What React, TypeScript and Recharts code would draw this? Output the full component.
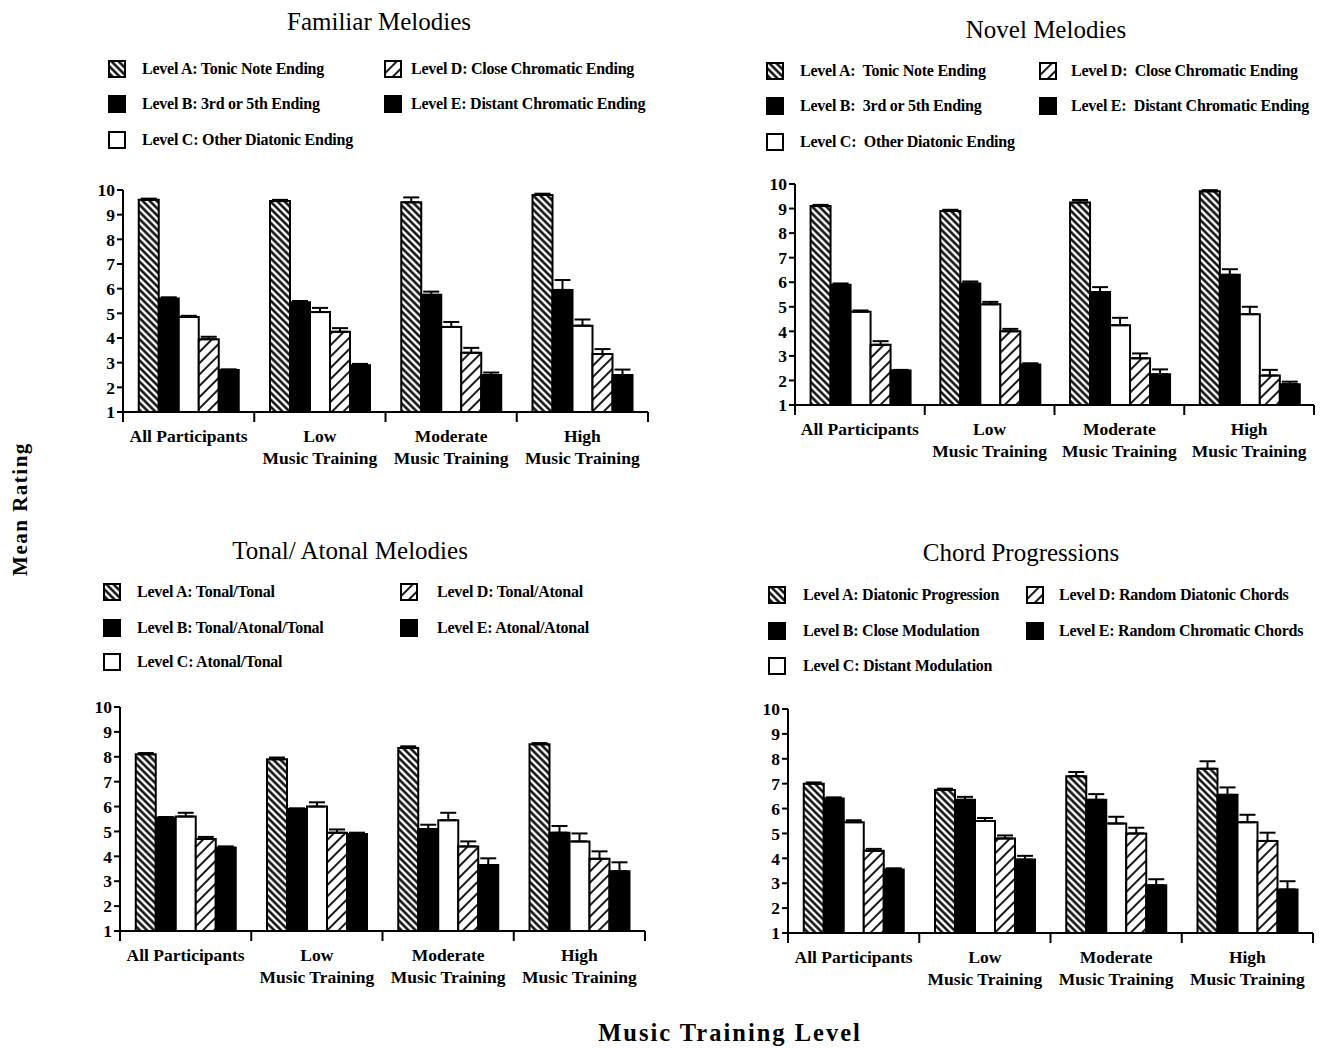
import React from "react";
import { BarChart, Bar, XAxis, YAxis, ErrorBar } from "recharts";

const FONT = "'Liberation Serif', 'DejaVu Serif', serif";

const categoryTop = ["All Participants", "Low", "Moderate", "High"];
const categoryBottom = ["", "Music Training", "Music Training", "Music Training"];
const yTicks = [1, 2, 3, 4, 5, 6, 7, 8, 9, 10];
const levelKeys = ["A", "B", "C", "D", "E"];
const levelFills = ["url(#hatchA)", "#000", "#fff", "url(#hatchD)", "#000"];

const familiarLegend = [
  "Level A: Tonic Note Ending",
  "Level B: 3rd or 5th Ending",
  "Level C: Other Diatonic Ending",
  "Level D: Close Chromatic Ending",
  "Level E: Distant Chromatic Ending",
];
const familiarMeans = [
  [9.6, 9.55, 9.5, 9.8],
  [5.6, 5.45, 5.75, 5.95],
  [4.85, 5.05, 4.45, 4.5],
  [3.95, 4.25, 3.4, 3.35],
  [2.7, 2.9, 2.5, 2.5],
];
const familiarErrors = [
  [0.05, 0.05, 0.2, 0.05],
  [0.05, 0.05, 0.13, 0.4],
  [0.05, 0.17, 0.2, 0.25],
  [0.1, 0.15, 0.2, 0.2],
  [0.03, 0.05, 0.1, 0.22],
];

const novelLegend = [
  "Level A:  Tonic Note Ending",
  "Level B:  3rd or 5th Ending",
  "Level C:  Other Diatonic Ending",
  "Level D:  Close Chromatic Ending",
  "Level E:  Distant Chromatic Ending",
];
const novelMeans = [
  [9.1, 8.9, 9.25, 9.7],
  [5.9, 5.95, 5.6, 6.3],
  [4.8, 5.1, 4.25, 4.7],
  [3.45, 4.0, 2.9, 2.2],
  [2.4, 2.65, 2.25, 1.85],
];
const novelErrors = [
  [0.05, 0.05, 0.1, 0.05],
  [0.05, 0.08, 0.2, 0.23],
  [0.05, 0.1, 0.3, 0.3],
  [0.15, 0.1, 0.2, 0.23],
  [0.03, 0.05, 0.2, 0.1],
];

const tonalLegend = [
  "Level A: Tonal/Tonal",
  "Level B: Tonal/Atonal/Tonal",
  "Level C: Atonal/Tonal",
  "Level D: Tonal/Atonal",
  "Level E: Atonal/Atonal",
];
const tonalMeans = [
  [8.1, 7.9, 8.35, 8.5],
  [5.55, 5.9, 5.1, 4.95],
  [5.6, 6.0, 5.45, 4.6],
  [4.7, 4.95, 4.4, 3.9],
  [4.35, 4.9, 3.65, 3.4],
];
const tonalErrors = [
  [0.05, 0.07, 0.07, 0.05],
  [0.03, 0.03, 0.17, 0.27],
  [0.15, 0.17, 0.3, 0.32],
  [0.08, 0.13, 0.2, 0.3],
  [0.05, 0.05, 0.27, 0.36],
];

const chordLegend = [
  "Level A: Diatonic Progression",
  "Level B: Close Modulation",
  "Level C: Distant Modulation",
  "Level D: Random Diatonic Chords",
  "Level E: Random Chromatic Chords",
];
const chordMeans = [
  [7.0, 6.75, 7.3, 7.6],
  [6.4, 6.35, 6.35, 6.55],
  [5.45, 5.5, 5.4, 5.45],
  [4.3, 4.8, 5.0, 4.7],
  [3.55, 3.95, 2.92, 2.75],
];
const chordErrors = [
  [0.05, 0.05, 0.17, 0.3],
  [0.05, 0.12, 0.23, 0.3],
  [0.08, 0.12, 0.27, 0.3],
  [0.08, 0.12, 0.23, 0.33],
  [0.05, 0.15, 0.24, 0.33],
];

function buildData(means: number[][], errors: number[][]) {
  return categoryTop.map((c, i) => {
    const row: any = { name: `${c} ${categoryBottom[i]}`.trim(), idx: i };
    levelKeys.forEach((k, j) => {
      row[k] = means[j][i];
      row["e" + k] = [0, errors[j][i]];
    });
    return row;
  });
}

type PanelProps = {
  left: number;
  top: number;
  plotW: number;
  plotH: number;
  title: string;
  titleX: number;
  titleY: number;
  legend: string[];
  col1Icon: number;
  col1Text: number;
  col2Icon: number;
  col2Text: number;
  rows: number[];
  means: number[][];
  errors: number[][];
};

const ML = 60;
const MR = 12;
const MT = 10;
const XH = 62;

function LegendIcon({ fill, cx, cy }: { fill: string; cx: number; cy: number }) {
  return (
    <svg
      width={18}
      height={18}
      style={{ position: "absolute", left: cx - 9, top: cy - 9 }}
    >
      <rect x={1} y={1} width={16} height={16} fill={fill} stroke="#000" strokeWidth={2} />
    </svg>
  );
}

function Panel(p: PanelProps) {
  const data = buildData(p.means, p.errors);
  const band = p.plotW / categoryTop.length;
  const W = p.plotW + ML + MR;
  const H = p.plotH + MT + XH;
  const renderTick = (props: any) => {
    const { x, y, payload } = props;
    const i = typeof props.index === "number" ? props.index : payload.index;
    return (
      <g>
        <line x1={x - band / 2} y1={y} x2={x - band / 2} y2={y + 10} stroke="#000" strokeWidth={2} />
        {i === categoryTop.length - 1 && (
          <line x1={x + band / 2} y1={y} x2={x + band / 2} y2={y + 10} stroke="#000" strokeWidth={2} />
        )}
        <text x={x} y={y + 30} textAnchor="middle" fontFamily={FONT} fontWeight="bold" fontSize={17.5} fill="#000">
          {categoryTop[i]}
        </text>
        <text x={x} y={y + 52} textAnchor="middle" fontFamily={FONT} fontWeight="bold" fontSize={17.5} fill="#000">
          {categoryBottom[i]}
        </text>
      </g>
    );
  };
  const legendPos = [
    [p.col1Icon, p.col1Text, p.rows[0]],
    [p.col1Icon, p.col1Text, p.rows[1]],
    [p.col1Icon, p.col1Text, p.rows[2]],
    [p.col2Icon, p.col2Text, p.rows[0]],
    [p.col2Icon, p.col2Text, p.rows[1]],
  ];
  return (
    <>
      <div
        style={{
          position: "absolute",
          left: p.titleX - 200,
          width: 400,
          top: p.titleY - 15,
          height: 30,
          lineHeight: "30px",
          textAlign: "center",
          fontFamily: FONT,
          fontSize: 25,
          color: "#000",
        }}
      >
        {p.title}
      </div>
      {p.legend.map((label, j) => (
        <React.Fragment key={j}>
          <LegendIcon fill={levelFills[j]} cx={legendPos[j][0]} cy={legendPos[j][2]} />
          <div
            style={{
              position: "absolute",
              left: legendPos[j][1],
              top: legendPos[j][2] - 11,
              height: 22,
              lineHeight: "22px",
              fontFamily: FONT,
              fontWeight: "bold",
              fontSize: 16,
              letterSpacing: "-0.25px",
              whiteSpace: "pre",
              color: "#000",
            }}
          >
            {label}
          </div>
        </React.Fragment>
      ))}
      <div style={{ position: "absolute", left: p.left - ML, top: p.top - MT }}>
        <BarChart
          width={W}
          height={H}
          data={data}
          margin={{ top: MT, right: MR, bottom: 0, left: 0 }}
          barCategoryGap="12%"
          barGap={0}
        >
          <XAxis
            dataKey="name"
            interval={0}
            height={XH}
            tickLine={false}
            tickSize={0}
            tickMargin={0}
            axisLine={{ stroke: "#000", strokeWidth: 2 }}
            tick={renderTick}
          />
          <YAxis
            width={ML}
            domain={[1, 10]}
            ticks={yTicks}
            interval={0}
            tickSize={6}
            tickMargin={2}
            axisLine={{ stroke: "#000", strokeWidth: 2 }}
            tickLine={{ stroke: "#000", strokeWidth: 2 }}
            tick={{ fontFamily: FONT, fontWeight: "bold", fontSize: 17.5, fill: "#000" }}
          />
          {levelKeys.map((k, j) => (
            <Bar
              key={k}
              dataKey={k}
              fill={levelFills[j]}
              stroke="#000"
              strokeWidth={2}
              isAnimationActive={false}
            >
              <ErrorBar dataKey={"e" + k} width={8} stroke="#000" strokeWidth={2} direction="y" />
            </Bar>
          ))}
        </BarChart>
      </div>
    </>
  );
}

export default function App() {
  return (
    <div
      style={{
        position: "absolute",
        left: 0,
        top: 0,
        width: 1323,
        height: 1048,
        background: "#fff",
        overflow: "hidden",
      }}
    >
      <svg width={0} height={0} style={{ position: "absolute" }}>
        <defs>
          <pattern id="hatchA" patternUnits="userSpaceOnUse" width={5} height={5} patternTransform="rotate(-45)">
            <rect width={5} height={5} fill="#fff" />
            <line x1={1.5} y1={0} x2={1.5} y2={5} stroke="#000" strokeWidth={2.4} />
          </pattern>
          <pattern id="hatchD" patternUnits="userSpaceOnUse" width={8} height={8} patternTransform="rotate(45)">
            <rect width={8} height={8} fill="#fff" />
            <line x1={2} y1={0} x2={2} y2={8} stroke="#000" strokeWidth={1.8} />
          </pattern>
        </defs>
      </svg>
      <Panel
        left={123}
        top={190}
        plotW={525}
        plotH={222}
        title="Familiar Melodies"
        titleX={379}
        titleY={22}
        legend={familiarLegend}
        col1Icon={117}
        col1Text={142}
        col2Icon={393}
        col2Text={411}
        rows={[69, 104, 140]}
        means={familiarMeans}
        errors={familiarErrors}
      />
      <Panel
        left={795}
        top={184}
        plotW={519}
        plotH={221}
        title="Novel Melodies"
        titleX={1046}
        titleY={30}
        legend={novelLegend}
        col1Icon={775}
        col1Text={800}
        col2Icon={1048}
        col2Text={1071}
        rows={[71, 106, 142]}
        means={novelMeans}
        errors={novelErrors}
      />
      <Panel
        left={120}
        top={707}
        plotW={525}
        plotH={224}
        title="Tonal/ Atonal Melodies"
        titleX={350}
        titleY={551}
        legend={tonalLegend}
        col1Icon={112}
        col1Text={137}
        col2Icon={409}
        col2Text={437}
        rows={[592, 628, 662]}
        means={tonalMeans}
        errors={tonalErrors}
      />
      <Panel
        left={788}
        top={709}
        plotW={525}
        plotH={224}
        title="Chord Progressions"
        titleX={1021}
        titleY={553}
        legend={chordLegend}
        col1Icon={777}
        col1Text={803}
        col2Icon={1035}
        col2Text={1059}
        rows={[595, 631, 666]}
        means={chordMeans}
        errors={chordErrors}
      />
      <div
        style={{
          position: "absolute",
          left: 20 - 100,
          top: 509 - 14,
          width: 200,
          height: 28,
          lineHeight: "28px",
          textAlign: "center",
          transform: "rotate(-90deg)",
          fontFamily: FONT,
          fontWeight: "bold",
          fontSize: 21,
          letterSpacing: "1.5px",
          color: "#000",
        }}
      >
        Mean Rating
      </div>
      <div
        style={{
          position: "absolute",
          left: 730 - 250,
          top: 1033 - 15,
          width: 500,
          height: 30,
          lineHeight: "30px",
          textAlign: "center",
          fontFamily: FONT,
          fontWeight: "bold",
          fontSize: 24.5,
          letterSpacing: "2px",
          color: "#000",
        }}
      >
        Music Training Level
      </div>
    </div>
  );
}
